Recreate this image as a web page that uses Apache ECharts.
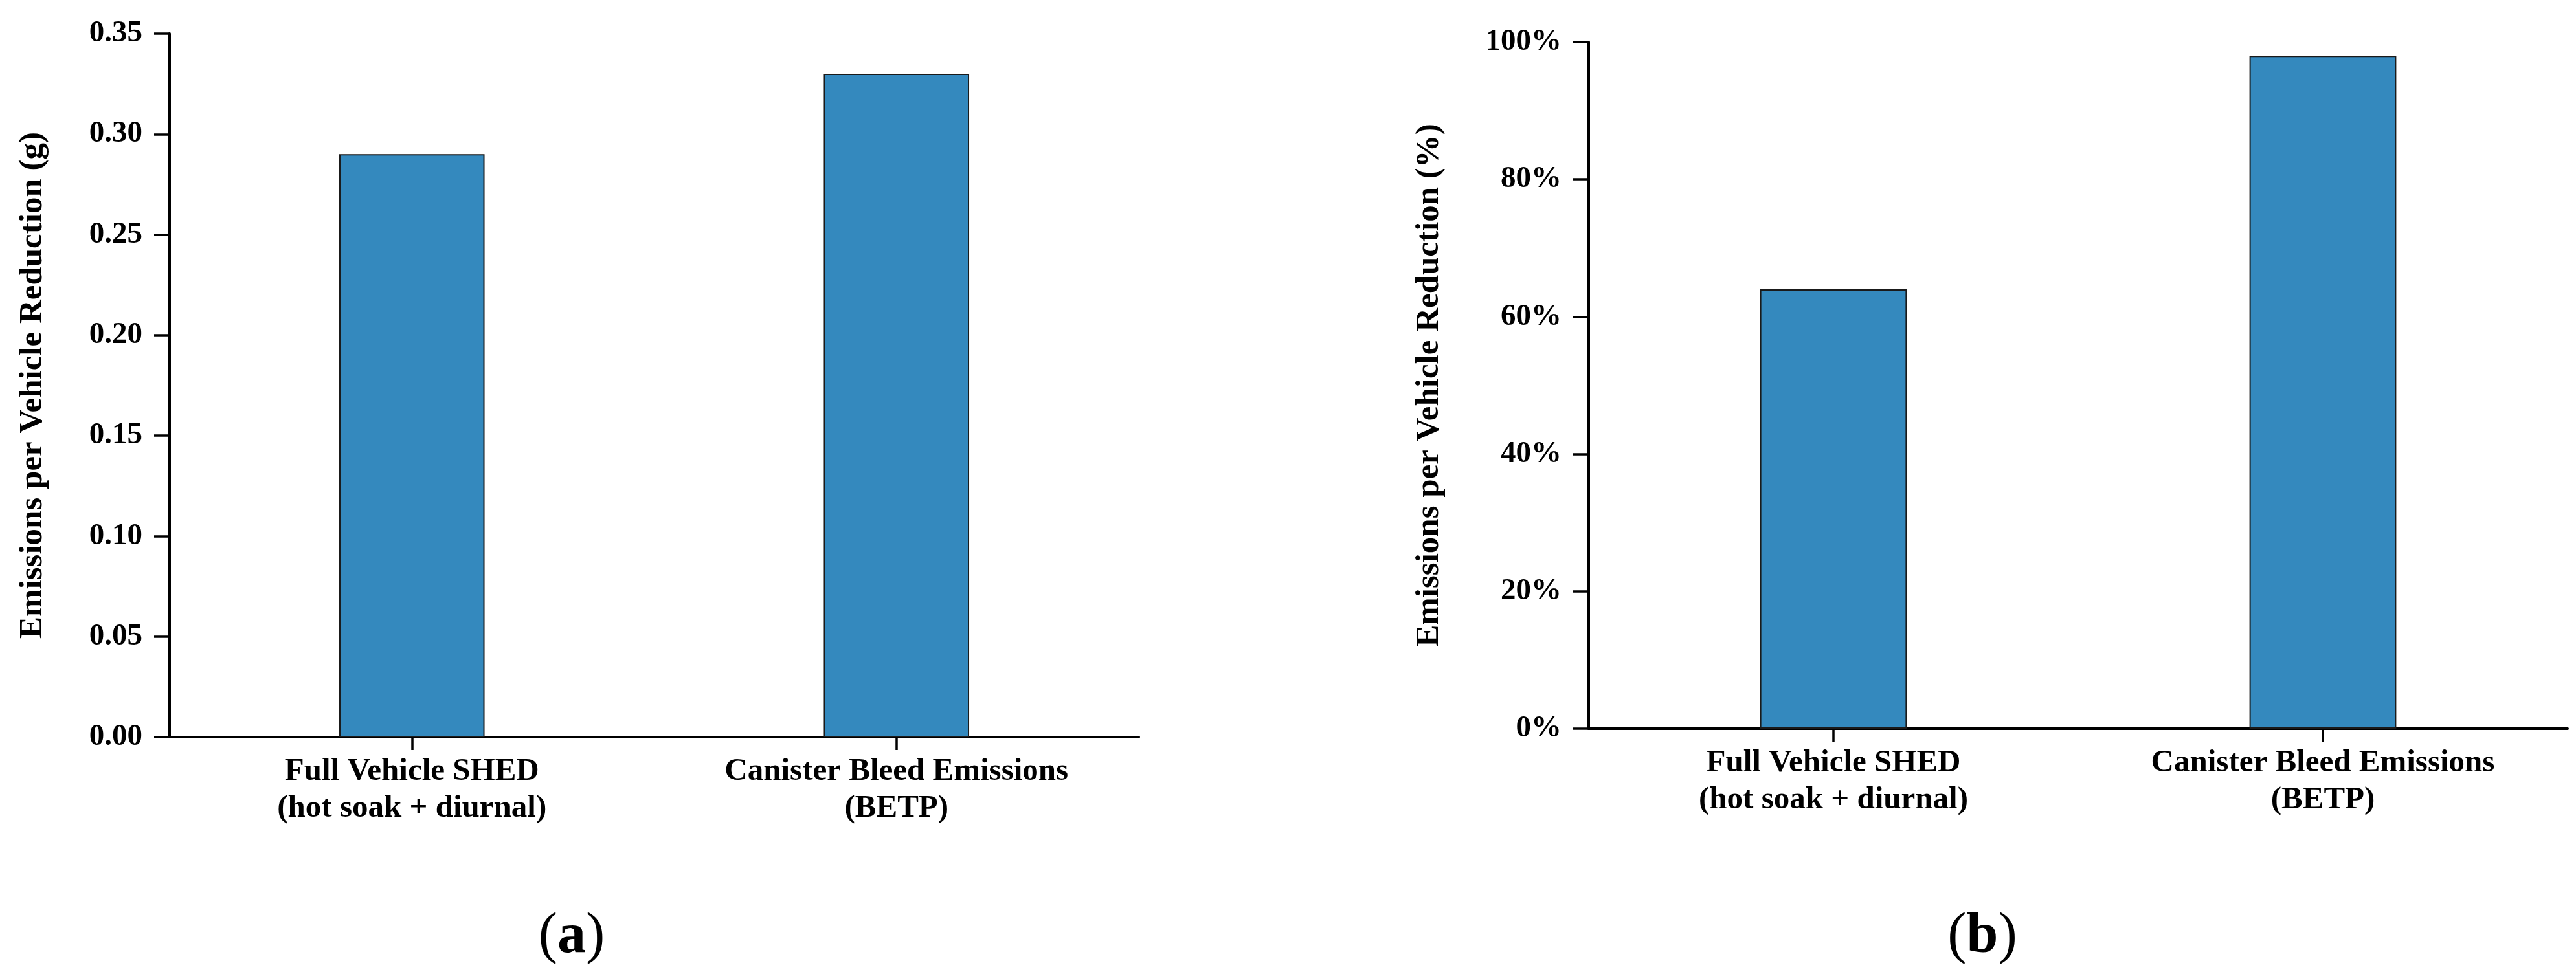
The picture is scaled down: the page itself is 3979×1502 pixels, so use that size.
<!DOCTYPE html>
<html>
<head>
<meta charset="utf-8">
<script src="https://cdn.jsdelivr.net/npm/echarts@6/dist/echarts.min.js"></script>
<style>
html,body{margin:0;padding:0;background:#fff;}
#chart{width:3979px;height:1502px;}
</style>
</head>
<body>
<div id="chart"></div>
<script>
const categories = ['Full Vehicle SHED\n(hot soak + diurnal)', 'Canister Bleed Emissions\n(BETP)'];
const gramsReduction = [0.29, 0.33];
const percentReduction = [64, 98];
const yNameA = 'Emissions per Vehicle Reduction (g)';
const yNameB = 'Emissions per Vehicle Reduction (%)';
const panelLabels = ['a', 'b'];

const FONT = 'Liberation Serif';
const BAR = '#3489BE';
const axisLineStyle = {color: '#000', width: 4};
const tickStyle = {color: '#000', width: 3.5};

function xAxisCfg(gridIndex) {
  return {
    type: 'category', gridIndex: gridIndex, data: categories,
    axisLine: {show: true, lineStyle: axisLineStyle},
    axisTick: {show: true, alignWithLabel: true, length: 20, lineStyle: tickStyle},
    axisLabel: {fontFamily: FONT, fontWeight: 'bold', fontSize: 49, color: '#000', lineHeight: 57, margin: 25, interval: 0},
    splitLine: {show: false}
  };
}

const chart = echarts.init(document.getElementById('chart'), null, {renderer: 'canvas'});
chart.setOption({
  backgroundColor: '#fff',
  animation: false,
  grid: [
    {left: 262, top: 52, width: 1497, height: 1087, containLabel: false},
    {left: 2454, top: 65, width: 1512, height: 1061, containLabel: false}
  ],
  xAxis: [xAxisCfg(0), xAxisCfg(1)],
  yAxis: [
    {
      type: 'value', gridIndex: 0, min: 0, max: 0.35, interval: 0.05,
      name: yNameA, nameLocation: 'middle', nameGap: 186, nameRotate: 90,
      nameTextStyle: {fontFamily: FONT, fontWeight: 'bold', fontSize: 51, color: '#000'},
      axisLine: {show: true, lineStyle: axisLineStyle},
      axisTick: {show: true, length: 24, lineStyle: tickStyle},
      axisLabel: {fontFamily: FONT, fontWeight: 'bold', fontSize: 47, color: '#000', margin: 42,
        formatter: v => v.toFixed(2)},
      splitLine: {show: false}
    },
    {
      type: 'value', gridIndex: 1, min: 0, max: 100, interval: 20,
      name: yNameB, nameLocation: 'middle', nameGap: 221, nameRotate: 90,
      nameTextStyle: {fontFamily: FONT, fontWeight: 'bold', fontSize: 51, color: '#000'},
      axisLine: {show: true, lineStyle: axisLineStyle},
      axisTick: {show: true, length: 24, lineStyle: tickStyle},
      axisLabel: {fontFamily: FONT, fontWeight: 'bold', fontSize: 47, color: '#000', margin: 42,
        formatter: '{value}%'},
      splitLine: {show: false}
    }
  ],
  series: [
    {type: 'bar', xAxisIndex: 0, yAxisIndex: 0, data: gramsReduction, barWidth: '30%',
      itemStyle: {color: BAR, borderColor: '#1a1a1a', borderWidth: 2}},
    {type: 'bar', xAxisIndex: 1, yAxisIndex: 1, data: percentReduction, barWidth: '30%',
      itemStyle: {color: BAR, borderColor: '#1a1a1a', borderWidth: 2}}
  ],
  graphic: [
    {type: 'text', x: 883, y: 1492, style: {
      text: '{p|(}{l|' + panelLabels[0] + '}{p|)}', align: 'center', verticalAlign: 'bottom',
      rich: {p: {fontFamily: FONT, fontSize: 88, fontWeight: 'normal', fill: '#000'},
             l: {fontFamily: FONT, fontSize: 88, fontWeight: 'bold', fill: '#000'}}}},
    {type: 'text', x: 3062, y: 1492, style: {
      text: '{p|(}{l|' + panelLabels[1] + '}{p|)}', align: 'center', verticalAlign: 'bottom',
      rich: {p: {fontFamily: FONT, fontSize: 88, fontWeight: 'normal', fill: '#000'},
             l: {fontFamily: FONT, fontSize: 88, fontWeight: 'bold', fill: '#000'}}}}
  ]
});
</script>
</body>
</html>
